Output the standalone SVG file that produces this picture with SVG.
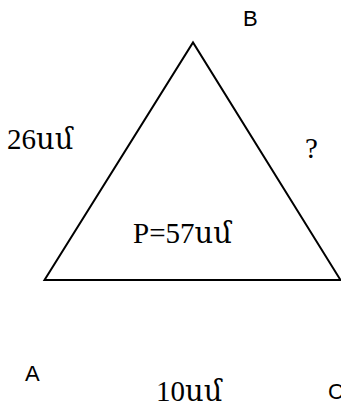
<svg xmlns="http://www.w3.org/2000/svg" width="341" height="403" viewBox="0 0 341 403">
<style>
.sans{font-family:"Liberation Sans","DejaVu Sans",sans-serif;font-size:22px;fill:#000}
.serif{font-family:"Liberation Serif","DejaVu Serif","Noto Serif",serif;font-size:29px;fill:#000}
.edge{fill:none;stroke:#000;stroke-width:2;stroke-linejoin:miter}
</style>
<rect width="341" height="403" fill="#fff"/>
<g id="connectors">
<polygon class="edge" points="44.5,280 193,42.5 340.5,280"/>
</g>
<g id="node-B"><text class="sans" x="243" y="26">B</text></g>
<g id="node-A"><text class="sans" x="25" y="381">A</text></g>
<g id="node-C"><text class="sans" x="328" y="399">C</text></g>
<g id="label-AB"><text class="serif" x="7" y="149">26սմ</text></g>
<g id="label-BC"><text class="serif" x="305" y="158">?</text></g>
<g id="label-P"><text class="serif" x="133" y="243">P=57սմ</text></g>
<g id="label-AC"><text class="serif" x="156" y="401">10սմ</text></g>
</svg>
